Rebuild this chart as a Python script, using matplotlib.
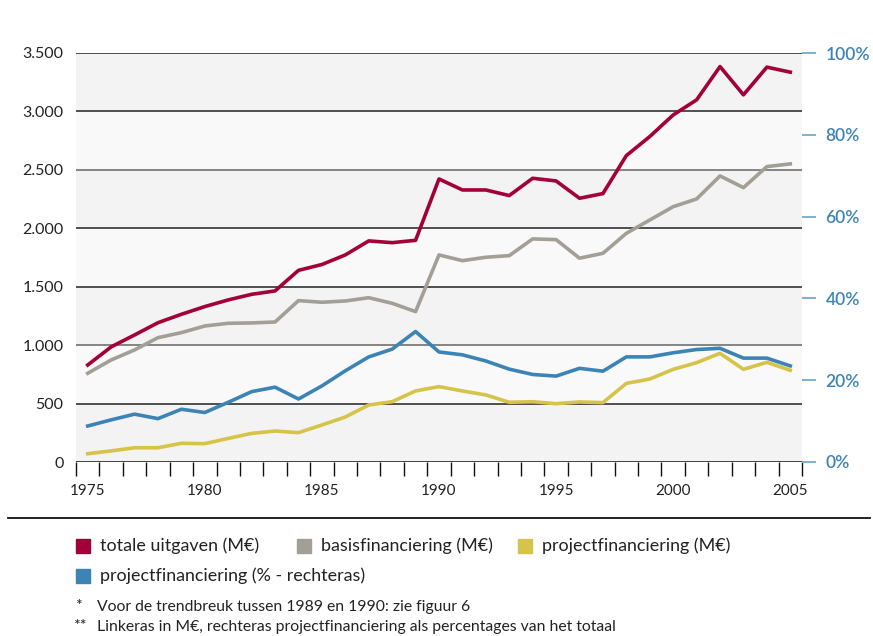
import matplotlib.pyplot as plt
from matplotlib.patches import Rectangle
from matplotlib.lines import Line2D

plt.rcParams['font.family'] = ['Lato', 'DejaVu Sans']

years = list(range(1975, 2006))
totaal = [830, 985, 1087, 1192, 1264, 1330, 1387, 1435, 1464, 1640, 1690, 1772,
          1892, 1877, 1897, 2422, 2328, 2328, 2280, 2428, 2405, 2257, 2297,
          2622, 2785, 2970, 3099, 3384, 3142, 3379, 3336]
basis = [759, 873, 959, 1064, 1107, 1164, 1187, 1190, 1198, 1381, 1367, 1378,
         1406, 1358, 1287, 1772, 1723, 1752, 1766, 1909, 1903, 1744, 1786,
         1957, 2071, 2185, 2251, 2448, 2348, 2528, 2551]
project = [71, 95, 122, 122, 160, 157, 202, 245, 265, 251, 317, 385,
           488, 516, 608, 645, 608, 574, 511, 516, 499, 514, 508,
           673, 710, 793, 850, 930, 793, 853, 785]
project_pct = [8.8, 10.3, 11.7, 10.6, 12.9, 12.1, 14.6, 17.2, 18.3, 15.4, 18.6, 22.3,
               25.7, 27.6, 31.9, 26.9, 26.2, 24.7, 22.7, 21.4, 21.0, 22.9, 22.2,
               25.7, 25.7, 26.7, 27.5, 27.8, 25.4, 25.4, 23.5]

left_ticks = [0, 500, 1000, 1500, 2000, 2500, 3000, 3500]
left_labels = ['0', '500', '1.000', '1.500', '2.000', '2.500', '3.000', '3.500']
right_ticks = [0, 20, 40, 60, 80, 100]
right_labels = ['0%', '20%', '40%', '60%', '80%', '100%']
x_labels = [1975, 1980, 1985, 1990, 1995, 2000, 2005]

legend_names = ['totale uitgaven (M€)', 'basisfinanciering (M€)',
                'projectfinanciering (M€)', 'projectfinanciering (% - rechteras)']

c_red = '#a3003a'
c_grey = '#a49f96'
c_yellow = '#d6c34a'
c_blue = '#3d84b6'
txt = '#222222'

W, H = 873, 636
fig = plt.figure(figsize=(W / 100, H / 100), dpi=100)
ax = fig.add_axes([76 / W, 1 - 462 / H, (802 - 76) / W, (462 - 53) / H])

ax.set_xlim(1974.5, 2005.5)
ax.set_ylim(0, 3500)

# banded background + grid lines
for i in range(len(left_ticks) - 1):
    shade = '#f3f3f3' if i % 2 == 0 else '#f9f9f9'
    ax.axhspan(left_ticks[i], left_ticks[i + 1], color=shade, lw=0, zorder=0)
grid_cols = ['#111111', '#222222', '#666666', '#222222', '#222222', '#666666', '#222222', '#222222']
for v, gc in zip(left_ticks, grid_cols):
    ax.axhline(v, color=gc, lw=1.1, zorder=1)

lw = 2.6
ax.plot(years, totaal, color=c_red, lw=lw, zorder=3)
ax.plot(years, basis, color=c_grey, lw=lw, zorder=3)
ax.plot(years, project, color=c_yellow, lw=lw, zorder=3)

ax2 = ax.twinx()
ax2.set_ylim(0, 100)
ax2.plot(years, project_pct, color=c_blue, lw=lw, zorder=3)

for a in (ax, ax2):
    for s in a.spines.values():
        s.set_visible(False)

ax.set_yticks(left_ticks)
ax.set_yticklabels(left_labels)
ax.tick_params(axis='y', length=0, pad=9, labelsize=11.5, labelcolor=txt)

# x ticks between years, labels centred on the years
ax.set_xticks([y - 0.5 for y in years] + [2005.5])
ax.set_xticklabels([])
ax.tick_params(axis='x', length=10, width=1, color='#111111', direction='out')
for yr in x_labels:
    ax.text(yr, -0.07, str(yr), transform=ax.get_xaxis_transform(),
            ha='center', va='center', fontsize=11, color=txt)

ax2.set_yticks(right_ticks)
ax2.set_yticklabels(right_labels)
ax2.tick_params(axis='y', length=10, width=1.3, color='#7aa8cc', pad=7,
                labelsize=12.5, labelcolor=c_blue)
for lab in ax2.get_yticklabels():
    lab.set_fontweight('semibold')

# separator line
fig.add_artist(Line2D([8 / W, 870 / W], [1 - 518 / H, 1 - 518 / H], color='#111111', lw=1.3))

# legend
leg_pos = [(76, 546), (297, 546), (518, 546), (76, 576)]
cols = [c_red, c_grey, c_yellow, c_blue]
for (px, py), col, name in zip(leg_pos, cols, legend_names):
    fig.add_artist(Rectangle((px / W, 1 - (py + 7) / H), 14 / W, 14 / H,
                             color=col, transform=fig.transFigure))
    fig.text((px + 24) / W, 1 - py / H, name, ha='left', va='center',
             fontsize=12.9, color=txt)

fn = 11.3
fig.text(75 / W, 1 - 606 / H, '*', ha='left', va='center', fontsize=fn, color=txt)
fig.text(97 / W, 1 - 607 / H, 'Voor de trendbreuk tussen 1989 en 1990: zie figuur 6',
         ha='left', va='center', fontsize=fn, color=txt)
fig.text(73 / W, 1 - 626 / H, '**', ha='left', va='center', fontsize=fn, color=txt)
fig.text(97 / W, 1 - 627 / H,
         'Linkeras in M€, rechteras projectfinanciering als percentages van het totaal',
         ha='left', va='center', fontsize=fn, color=txt)

fig.savefig('out.png', dpi=100)
